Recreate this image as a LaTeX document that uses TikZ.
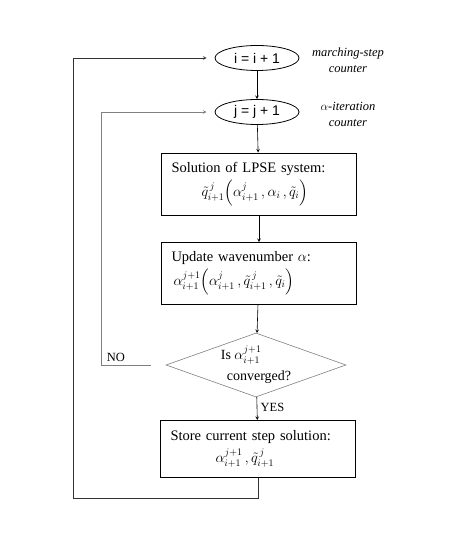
\documentclass[tikz,border=0pt]{standalone}
\usepackage{amsmath,amssymb}
\usepackage{fontspec}
\setmainfont{Liberation Serif}
\setsansfont{Liberation Sans}
\usepackage{tikz}
\usetikzlibrary{shapes,arrows,positioning,calc}

\begin{document}
\begin{tikzpicture}[
    x=1pt, y=1pt,
    counter/.style={ellipse, draw=black, line width=0.8pt, minimum width=84pt, minimum height=25pt, inner sep=0pt, font=\sffamily\fontsize{14}{16}\selectfont},
    stepbox/.style={rectangle, draw=black, line width=0.9pt, text width=175pt, inner xsep=10pt, align=left, minimum height=62pt, font=\fontsize{14.5}{24}\selectfont},
    check/.style={diamond, draw=gray, line width=0.6pt, aspect=2.8, minimum width=180pt, minimum height=64pt, inner sep=0pt, align=left, font=\fontsize{14}{21}\selectfont},
    note/.style={align=center, font=\itshape\fontsize{12.5}{16}\selectfont},
    tag/.style={font=\fontsize{12.5}{14}\selectfont},
    arrow/.style={->, >=stealth, line width=0.6pt}
]
    \useasboundingbox (0,0) rectangle (474,535);

    % main column
    \node[counter] (inci) at (257,477) {i = i + 1};
    \node[counter] (incj) at (257,423) {j = j + 1};
    \node[stepbox] (solve) at (259,351) {Solution of LPSE system:\\
        \hspace*{30pt}$\tilde{q}^{\,j}_{i+1}\Big(\alpha^{j}_{i+1}\,,\alpha_i\,,\tilde{q}_i\Big)$};
    \node[stepbox] (update) at (259,261.5) {Update wavenumber $\alpha$:\\
        \hspace*{2pt}$\alpha^{j+1}_{i+1}\Big(\alpha^{j}_{i+1}\,,\tilde{q}^{\,j}_{i+1}\,,\tilde{q}_i\Big)$};
    \node[check] (conv) at (256,170) {Is $\alpha^{j+1}_{i+1}$\\ \hspace*{6pt}converged?};
    \node[stepbox, minimum height=57pt, font=\fontsize{14.5}{22}\selectfont] (store) at (258,86) {Store current step solution:\\
        \hspace*{45pt}$\alpha^{j+1}_{i+1}\,,\tilde{q}^{\,j}_{i+1}$};

    % side notes
    \node[note] (marchnote) at (348,475) {marching-step\\counter};
    \node[note] (iternote) at (348,421) {$\alpha$-iteration\\counter};

    % connectors
    \draw[arrow] (inci) -- (incj);
    \draw[arrow] (incj) -- (solve);
    \draw[arrow] (solve) -- (update);
    \draw[arrow] (update) -- (conv);
    \draw[arrow] (conv) -- node[tag, right, pos=0.45] (yes) {YES} (store);

    % loops
    \coordinate (low) at (73,37);
    \coordinate (noturn) at (101,0);
    \draw[arrow, draw=black!80, shorten >=8pt] (store.south) |- (low) |- (inci.west);
    \draw[arrow, draw=gray, shorten <=15pt, shorten >=8pt] (conv.west) -- (conv.west -| noturn) |- (incj.west);
    \node[tag] (no) at (116,178) {NO};
\end{tikzpicture}
\end{document}
